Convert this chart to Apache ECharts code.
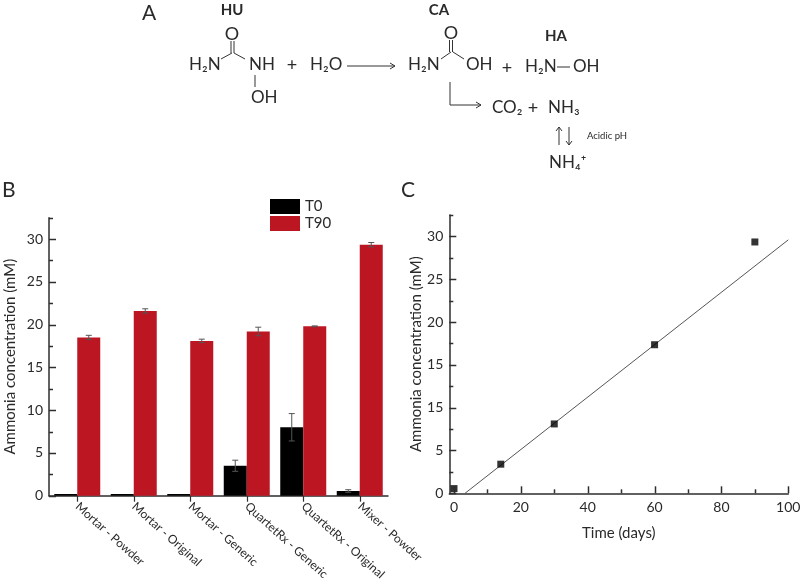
<!DOCTYPE html>
<html>
<head>
<meta charset="utf-8">
<style>html,body{margin:0;padding:0;background:#fff}#c{width:800px;height:583px}</style>
<script src="https://cdn.jsdelivr.net/npm/echarts@6/dist/echarts.min.js"></script>
</head>
<body>
<div id="c"></div>
<script>
const categories = ['Mortar - Powder','Mortar - Original','Mortar - Generic','QuartetRx - Generic','QuartetRx - Original','Mixer - Powder'];
const t0Values = [0.2,0.2,0.2,3.5,8.0,0.55];
const t90Values = [18.5,21.6,18.1,19.2,19.8,29.35];
const t0Errors = [0,0,0,0.65,1.6,0.15];
const t90Errors = [0.25,0.25,0.2,0.5,0.05,0.25];
const timeDays = [0,14,30,60,90];
const concentration = [0.55,3.4,8.1,17.35,29.35];
const fitLine = [[3.3,0],[100,29.6]];
const yMajor = [0,5,10,15,20,25,30];
const yMinor = [2.5,7.5,12.5,17.5,22.5,27.5,32.5];
const xMajor = [0,20,40,60,80,100];
const xMinor = [10,30,50,70,90];
const yLabelsB = ['0','5','10','15','20','25','30'];
const yLabelsC = ['0','5','15','15','20','25','30'];
const yTitle = 'Ammonia concentration (mM)';
const xTitle = 'Time (days)';

const FONT = 'Lato,"Noto Sans",sans-serif';
const INK = '#2a2a2a';
const RED = '#bb1622';
const AXIS = '#2e2e2e';
const line = {show:true,onZero:false,lineStyle:{color:AXIS,width:1.5}};

function yAxisFor(gridIndex, labels, nameGap){
  return {type:'value',gridIndex,position:'left',min:0,max:32.5,name:yTitle,nameLocation:'middle',nameGap,
     nameTextStyle:{fontFamily:FONT,fontSize:15,color:INK},
     axisLine:line,splitLine:{show:false},axisTick:{show:false},
     axisLabel:{show:true,margin:6,fontFamily:FONT,fontSize:14,color:INK,customValues:yMajor,
       formatter:v=>labels[yMajor.indexOf(v)]}};
}

// Inward ticks placed through the axis scale
function yTicks(axisIndexX, axisIndexY, values, len){
  return {type:'custom',xAxisIndex:axisIndexX,yAxisIndex:axisIndexY,z:7,silent:true,clip:false,
    data:values.map(v=>[0,v]),
    renderItem(params,api){
      const y=Math.round(api.coord([0,api.value(1)])[1])+0.5, x=params.coordSys.x;
      return {type:'line',shape:{x1:x,y1:y,x2:x+len,y2:y},style:{stroke:AXIS,lineWidth:1.5}};
    }};
}
function xTicks(axisIndexX, axisIndexY, values, len){
  return {type:'custom',xAxisIndex:axisIndexX,yAxisIndex:axisIndexY,z:7,silent:true,clip:false,
    data:values.map(v=>[v,0]),
    renderItem(params,api){
      const x=Math.round(api.coord([api.value(0),0])[0])+0.5, y=params.coordSys.y+params.coordSys.height;
      return {type:'line',shape:{x1:x,y1:y,x2:x,y2:y-len},style:{stroke:AXIS,lineWidth:1.5}};
    }};
}

function errorSeries(name, values, errors, dir){
  return {
    type:'custom',name,xAxisIndex:0,yAxisIndex:0,z:5,silent:true,
    data:values.map((v,i)=>[i,v,errors[i]]),
    renderItem(params,api){
      const e=api.value(2);
      if(!e) return null;
      const i=api.value(0), v=api.value(1);
      const off=api.size([1,0])[0]*0.2035*dir;
      const top=api.coord([i,v+e]), bot=api.coord([i,v-e]);
      const x=top[0]+off, cap=3;
      return {type:'group',children:[
        {type:'line',shape:{x1:x,y1:top[1],x2:x,y2:bot[1]},style:{stroke:'#555',lineWidth:1}},
        {type:'line',shape:{x1:x-cap,y1:top[1],x2:x+cap,y2:top[1]},style:{stroke:'#555',lineWidth:1}},
        {type:'line',shape:{x1:x-cap,y1:bot[1],x2:x+cap,y2:bot[1]},style:{stroke:'#555',lineWidth:1}}
      ]};
    }
  };
}

// Reaction scheme (panel A) and panel letters
function T(x,y,text,size,opt){
  return {type:'text',silent:true,x,y,style:Object.assign({text,fontFamily:FONT,fontSize:size||17,fill:INK,
    align:'left',verticalAlign:'middle'},opt||{})};
}
function L(pts){
  return {type:'polyline',silent:true,shape:{points:pts},style:{fill:'none',stroke:'#333',lineWidth:1}};
}
const C={align:'center'};
const B={align:'center',fontWeight:'bold',fontSize:15};
const scheme=[
  T(142,13,'A',21), T(2,190,'B',21), T(401,190,'C',21),
  T(232,10,'HU',15,B), T(439,10,'CA',15,B), T(556,36,'HA',15,B),
  // HU
  T(232,34,'O',18,C), L([[231,41],[231,53]]), L([[234,41],[234,53]]),
  L([[221,59],[232,53]]), L([[234,53],[245,59]]),
  T(189,65,'H₂N'), T(249,65,'NH'), L([[255,75],[255,87]]), T(251,98,'OH'),
  T(292,65,'+',18,C), T(310,65,'H₂O'),
  L([[347,66],[395,66]]), L([[390,63],[395,66],[390,69]]),
  // CA
  T(451,33,'O',18,C), L([[449.5,40],[449.5,52]]), L([[452.5,40],[452.5,52]]),
  L([[441,59],[451,52]]), L([[453,52],[464,59]]),
  T(408,65,'H₂N'), T(466,65,'OH'), T(507,68,'+',18,C),
  // HA
  T(525,67,'H₂N'), L([[557,67],[570,67]]), T(573,67,'OH'),
  // Products
  L([[450,82],[450,105],[481,105]]), L([[476,102],[481,105],[476,108]]),
  T(492,108,'CO₂'), T(533,108,'+',18,C), T(548,108,'NH₃'),
  L([[559,145],[559,127]]), L([[556,131],[559,127],[562,131]]),
  L([[569,127],[569,145]]), L([[566,141],[569,145],[572,141]]),
  T(587,136,'Acidic pH',9.5),
  T(549,163,'NH₄⁺')
];

const chart = echarts.init(document.getElementById('c'),null,{renderer:'canvas'});
chart.setOption({
  animation:false,
  backgroundColor:'#fff',
  textStyle:{fontFamily:FONT},
  graphic:{elements:scheme},
  legend:{
    data:[{name:'T0',icon:'rect'},{name:'T90',icon:'rect'}],orient:'vertical',left:270,top:199,itemWidth:30,itemHeight:15,itemGap:2,
    padding:0,itemStyle:{borderWidth:0},
    textStyle:{fontFamily:FONT,fontSize:15,color:INK},selectedMode:false
  },
  grid:[
    {left:49,right:412,top:217.7,bottom:87.3,outerBoundsMode:'none'},
    {left:449.3,right:11.7,top:215,bottom:89.7,outerBoundsMode:'none'}
  ],
  xAxis:[
    {type:'category',gridIndex:0,data:categories,axisLine:line,
     axisTick:{show:true,alignWithLabel:true,length:6,lineStyle:{color:AXIS,width:1.2}},
     axisLabel:{interval:0,rotate:-42,margin:9,fontFamily:FONT,fontSize:12,color:INK}},
    {type:'value',gridIndex:1,position:'bottom',min:-1.4,max:100,name:xTitle,nameLocation:'middle',nameGap:32,
     nameTextStyle:{fontFamily:FONT,fontSize:15,color:INK},
     axisLine:line,splitLine:{show:false},axisTick:{show:false},
     axisLabel:{show:true,margin:7,fontFamily:FONT,fontSize:14,color:INK,customValues:xMajor}}
  ],
  yAxis:[yAxisFor(0,yLabelsB,31),yAxisFor(1,yLabelsC,25)],
  series:[
    {type:'bar',name:'T0',xAxisIndex:0,yAxisIndex:0,data:t0Values,barWidth:23,barGap:'0%',
     itemStyle:{color:'#000'}},
    {type:'bar',name:'T90',xAxisIndex:0,yAxisIndex:0,data:t90Values,barWidth:23,barGap:'0%',
     itemStyle:{color:RED}},
    errorSeries('T0 error',t0Values,t0Errors,-1),
    errorSeries('T90 error',t90Values,t90Errors,1),
    {type:'line',name:'Fit',xAxisIndex:1,yAxisIndex:1,data:fitLine,showSymbol:false,
     lineStyle:{color:'#555',width:1}},
    {type:'scatter',name:'Mixer',xAxisIndex:1,yAxisIndex:1,symbol:'rect',symbolSize:7,
     data:timeDays.map((d,i)=>[d,concentration[i]]),itemStyle:{color:'#000'},z:6},
    yTicks(0,0,yMajor,7), yTicks(0,0,yMinor,4),
    yTicks(1,1,yMajor,7), yTicks(1,1,yMinor,4),
    xTicks(1,1,xMajor,7), xTicks(1,1,xMinor,4)
  ]
});
</script>
</body>
</html>
